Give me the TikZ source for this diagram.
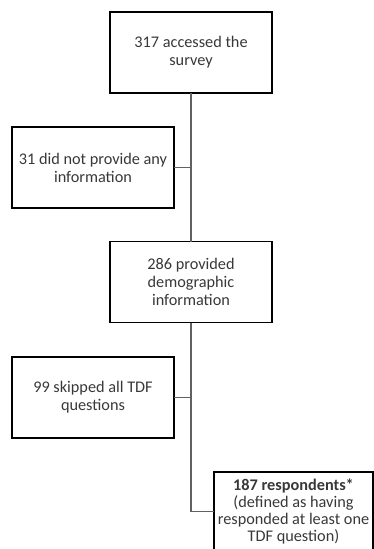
\documentclass[tikz,border=0pt]{standalone}
\usepackage{fontspec}
\setmainfont{Carlito}
\begin{document}
\begin{tikzpicture}[x=0.75pt,y=-0.75pt,
  box/.style={draw=black,line width=0.8pt,minimum width=121.5pt,minimum height=60.75pt,
    inner sep=0pt,outer sep=0pt,align=center,text=black!78,
    font=\fontsize{12.2pt}{13.6pt}\selectfont},
  conn/.style={draw=black!62,line width=1pt}]
\useasboundingbox (0,0) rectangle (374,549);
\clip (0,0) rectangle (374,549);
\node[box] (a) at (191,52.5) {317 accessed the\\survey};
\node[box] (b) at (93,167.5) {31 did not provide any\\information};
\node[box] (c) at (191,282) {286 provided\\demographic\\information};
\node[box] (d) at (93,397.5) {99 skipped all TDF\\questions};
\node[box,minimum width=119.25pt,minimum height=59.25pt,
  font=\fontsize{12.2pt}{12.6pt}\selectfont] (e) at (293.5,511.5)
  {\textbf{187 respondents*}\\(defined as having\\responded at least one\\TDF question)};
\coordinate (j1) at (191,167.5);
\coordinate (j2) at (191,397.5);
\coordinate (j3) at (191,511.5);
\draw[conn] (a.south) -- (c.north);
\draw[conn] (j1) -- (b.east);
\draw[conn] (c.south) -- (j3) -- (e.west);
\draw[conn] (j2) -- (d.east);
\end{tikzpicture}
\end{document}
